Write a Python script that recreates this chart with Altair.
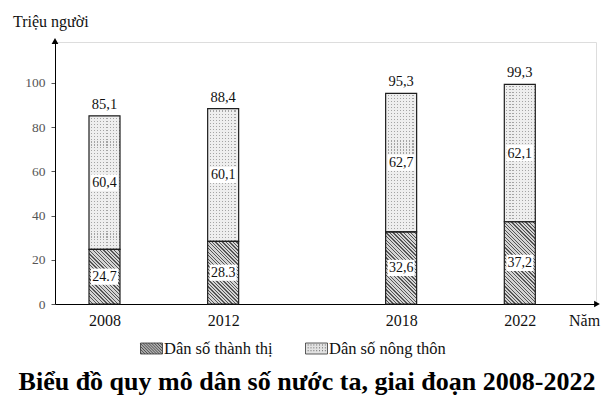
import math
import altair as alt
import pandas as pd

# ---------------- data ----------------
years = [2008, 2012, 2018, 2022]
urban = [24.7, 28.3, 32.6, 37.2]
rural = [60.4, 60.1, 62.7, 62.1]
totals = [85.1, 88.4, 95.3, 99.3]
urban_labels = ["24.7", "28.3", "32,6", "37,2"]
rural_labels = ["60,4", "60,1", "62,7", "62,1"]
total_labels = ["85,1", "88,4", "95,3", "99,3"]
y_ticks = [0, 20, 40, 60, 80, 100]
series_names = ["Dân số thành thị", "Dân số nông thôn"]
y_title = "Triệu người"
x_title = "Năm"
chart_title = "Biểu đồ quy mô dân số nước ta, giai đoạn 2008-2022"

# ---------------- layout / style ----------------
W, H = 541, 262
YMAX = 118.5
XDOM = [2006.5, 2024.4]
BAR_W = 31
PX = H / YMAX
FONT = "Liberation Serif"

df = pd.DataFrame({
    "year": years, "urban": urban, "rural": rural, "total": totals,
    "u_lab": urban_labels, "r_lab": rural_labels, "t_lab": total_labels,
})
df["zero"] = 0.0
df["top"] = df["urban"] + df["rural"]
df["u_mid"] = df["urban"] / 2
df["r_mid"] = df["urban"] + df["rural"] / 2
df["u_cat"] = series_names[0]
df["r_cat"] = series_names[1]

XS = alt.Scale(domain=XDOM, nice=False, zero=False)
YS = alt.Scale(domain=[0, YMAX], nice=False)
X_AXIS = alt.Axis(
    values=years, format="d", title=None, ticks=False, grid=False,
    labelFontSize=16, labelPadding=8, labelColor="#111",
    labelFont=FONT, domainColor="black", domainWidth=1)
Y_AXIS = alt.Axis(
    values=y_ticks, title=None, grid=False, tickSize=4,
    tickColor="#555", labelFontSize=13.5, labelColor="#555",
    labelFont=FONT, labelPadding=6, domainColor="black", domainWidth=1)


def X():
    return alt.X("year:Q", scale=XS, axis=X_AXIS)


def Y(field):
    return alt.Y(f"{field}:Q", scale=YS, axis=Y_AXIS)


def stops_for(n, c_on, c_off, frac):
    st = []
    for k in range(n):
        a = k / n
        b = (k + frac) / n
        c = (k + 1) / n
        st += [alt.GradientStop(offset=a, color=c_on),
               alt.GradientStop(offset=b, color=c_on),
               alt.GradientStop(offset=b, color=c_off),
               alt.GradientStop(offset=c, color=c_off)]
    return st


def hatch_gradient(w, h, period=3.5):
    k = (1 / h + 1 / w) / (1 / h ** 2 + 1 / w ** 2)
    n = max(2, round((w + h) / period))
    return alt.LinearGradient(
        gradient="linear", stops=stops_for(n, "#555555", "#d4d4d4", 0.36),
        x1=0, y1=1, x2=k / h, y2=1 - k / w)


def stripe_gradient(n, vertical):
    st = stops_for(n, "#eeeeee", "rgba(238,238,238,0)", 0.64)
    if vertical:
        return alt.LinearGradient(gradient="linear", stops=st, x1=0, y1=0, x2=1, y2=0)
    return alt.LinearGradient(gradient="linear", stops=st, x1=0, y1=0, x2=0, y2=1)


# legend symbols (custom paths)
def hatch_symbol():
    hh = 0.5
    parts = [f"M-1,{-hh}H1V{hh}H-1Z"]
    c = -1.6
    while c < 1.6:
        y0 = max(-hh, -1 - c)
        y1 = min(hh, 1 - c)
        if y1 > y0:
            parts.append(f"M{y0 + c:.3f},{y0:.3f}L{y1 + c:.3f},{y1:.3f}")
        c += 0.26
    return "".join(parts)


def dot_symbol():
    hh = 0.5
    parts = [f"M-1,{-hh}H1V{hh}H-1Z"]
    yy = -0.32
    while yy < 0.4:
        xx = -0.8
        while xx < 0.9:
            parts.append(f"M{xx:.2f},{yy:.2f}h0.08")
            xx += 0.26
        yy += 0.26
    return "".join(parts)


def legend(x, sym):
    return alt.Legend(
        title=None, orient="none", legendX=x, legendY=295,
        symbolType=sym, symbolSize=484, symbolStrokeColor="#333",
        symbolStrokeWidth=0.8, symbolOpacity=1, labelFont=FONT,
        labelFontSize=16.5, labelColor="#111", labelOffset=1)


layers = []

# urban base (carries legend)
layers.append(alt.Chart(df).mark_bar(width=BAR_W, strokeWidth=0).encode(
    x=X(), y=Y("zero"), y2="urban",
    color=alt.Color("u_cat:N", scale=alt.Scale(domain=[series_names[0]], range=["#b0b0b0"]),
                    legend=legend(85, hatch_symbol()))))

# rural base (carries legend)
layers.append(alt.Chart(df).mark_bar(width=BAR_W, strokeWidth=0).encode(
    x=X(), y=Y("urban"), y2="top",
    color=alt.Color("r_cat:N", scale=alt.Scale(domain=[series_names[1]], range=["#e2e2e2"]),
                    legend=legend(250, dot_symbol()))))

# urban hatch, per bar
for yr, u in zip(years, urban):
    layers.append(alt.Chart(df).transform_filter(alt.datum.year == yr).mark_bar(
        width=BAR_W, fill=hatch_gradient(BAR_W, u * PX), strokeWidth=0).encode(
        x=X(), y=Y("zero"), y2="urban"))

# rural dotted texture
layers.append(alt.Chart(df).mark_bar(width=BAR_W, fill="#a4a4a4", strokeWidth=0).encode(
    x=X(), y=Y("urban"), y2="top"))
layers.append(alt.Chart(df).mark_bar(width=BAR_W, fill=stripe_gradient(round(BAR_W / 3), True),
                                     strokeWidth=0).encode(x=X(), y=Y("urban"), y2="top"))
for yr, r in zip(years, rural):
    layers.append(alt.Chart(df).transform_filter(alt.datum.year == yr).mark_bar(
        width=BAR_W, fill=stripe_gradient(round(r * PX / 3), False), strokeWidth=0).encode(
        x=X(), y=Y("urban"), y2="top"))

# outlines
layers.append(alt.Chart(df).mark_bar(width=BAR_W, fill="white", fillOpacity=0,
                                     stroke="#1e1e1e", strokeWidth=1.2).encode(
    x=X(), y=Y("zero"), y2="urban"))
layers.append(alt.Chart(df).mark_bar(width=BAR_W, fill="white", fillOpacity=0,
                                     stroke="#1e1e1e", strokeWidth=1.2).encode(
    x=X(), y=Y("urban"), y2="top"))

# label boxes and labels
BOX = "M-1,-0.6H1V0.6H-1Z"
for mid, lab in (("u_mid", "u_lab"), ("r_mid", "r_lab")):
    layers.append(alt.Chart(df).mark_point(shape=BOX, filled=True, fill="white",
                                           opacity=1, size=729, strokeWidth=0).encode(
        x=X(), y=Y(mid)))
    layers.append(alt.Chart(df).mark_text(font=FONT, fontSize=14, color="#111",
                                          baseline="middle", dy=0.5).encode(
        x=X(), y=Y(mid), text=f"{lab}:N"))

# totals
layers.append(alt.Chart(df).mark_text(font=FONT, fontSize=14.5, color="#111",
                                      baseline="bottom", dy=-4).encode(
    x=X(), y=Y("total"), text="t_lab:N"))

# decorations: axis arrows and texts
one = alt.Data(values=[{"k": 1}])
layers.append(alt.Chart(one).mark_point(shape="triangle-up", filled=True, fill="black",
                                        opacity=1, size=45).encode(
    x=alt.value(0), y=alt.value(-1)))
layers.append(alt.Chart(one).mark_point(shape="triangle-right", filled=True, fill="black",
                                        opacity=1, size=45).encode(
    x=alt.value(W + 1), y=alt.value(H)))
layers.append(alt.Chart(one).mark_text(text=y_title, font=FONT, fontSize=16, color="#111",
                                       align="left", baseline="middle").encode(
    x=alt.value(-42), y=alt.value(-20)))
layers.append(alt.Chart(one).mark_text(text=x_title, font=FONT, fontSize=16, color="#111",
                                       align="left", baseline="middle").encode(
    x=alt.value(514), y=alt.value(H + 17)))
layers.append(alt.Chart(one).mark_text(text=chart_title, font=FONT, fontSize=26,
                                       fontWeight="bold", color="black",
                                       align="center", baseline="middle").encode(
    x=alt.value(252), y=alt.value(340)))

chart = alt.layer(*layers).resolve_scale(color="independent").properties(
    width=W, height=H,
    autosize=alt.AutoSizeParams(type="none"),
    padding={"left": 47, "top": 34, "right": 8, "bottom": 98},
    background="white",
).configure_view(stroke=None).configure(font=FONT)

chart.save("out.html", embed_options={"renderer": "svg", "actions": False})
